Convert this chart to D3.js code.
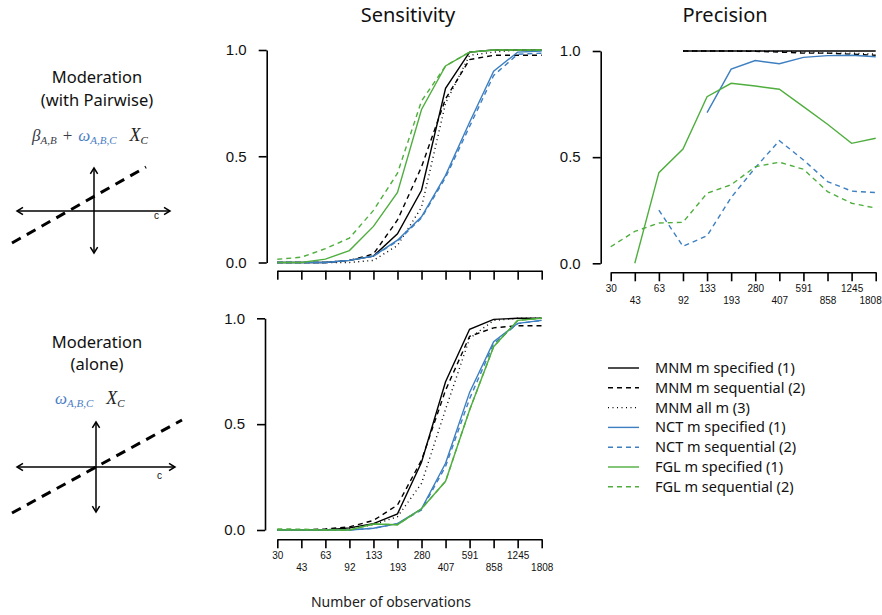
<!DOCTYPE html>
<html><head><meta charset="utf-8">
<script src="https://cdn.jsdelivr.net/npm/d3@7/dist/d3.min.js"></script>
<style>
body{margin:0;background:#fff;}
svg{display:block;}
</style></head>
<body>
<svg id="chart" width="882" height="615"></svg>
<script>
// ---- data ----
const xLabels = ["30","43","63","92","133","193","280","407","591","858","1245","1808"];
const yTicks = [0, 0.5, 1];
const seriesNames = ["MNM m specified (1)","MNM m sequential (2)","MNM all m (3)","NCT m specified (1)","NCT m sequential (2)","FGL m specified (1)","FGL m sequential (2)"];

// Sensitivity, Moderation (with Pairwise)
const sensTop_mnmSpec = [0,0,0,0.01,0.03,0.135,0.34,0.82,0.99,1,1,1];
const sensTop_mnmSeq  = [0,0,0,0.01,0.04,0.2,0.45,0.77,0.955,0.975,0.975,0.975];
const sensTop_mnmAll  = [0,0,0,0,0.01,0.08,0.26,0.75,0.975,0.99,1,1];
const sensTop_nctSpec = [0,0,0,0.01,0.03,0.105,0.215,0.41,0.66,0.9,0.99,0.995];
const sensTop_nctSeq  = [0,0,0,0.01,0.03,0.1,0.21,0.4,0.64,0.88,0.98,0.985];
const sensTop_fglSpec = [0,0,0.016,0.056,0.17,0.33,0.72,0.925,0.99,1,1,1];
const sensTop_fglSeq  = [0.015,0.025,0.065,0.115,0.245,0.42,0.76,0.925,0.99,1,1,1];

// Precision, Moderation (with Pairwise)
const prec_mnmSpec = [null,null,null,1,1,1,1,1,1,1,1,1];
const prec_mnmSeq  = [null,null,null,1,1,1,0.998,0.995,0.99,0.99,0.985,0.98];
const prec_mnmAll  = [null,null,null,1,1,1,1,0.998,0.995,0.99,0.99,0.985];
const prec_nctSpec = [null,null,null,null,0.71,0.915,0.955,0.94,0.97,0.978,0.98,0.973];
const prec_nctSeq  = [null,null,0.25,0.08,0.13,0.31,0.45,0.578,0.487,0.385,0.34,0.333];
const prec_fglSpec = [null,0,0.427,0.538,0.785,0.848,0.835,0.82,0.738,0.655,0.565,0.589];
const prec_fglSeq  = [0.078,0.15,0.19,0.193,0.33,0.37,0.455,0.476,0.443,0.338,0.283,0.26];

// Sensitivity, Moderation (alone)
const sensBot_mnmSpec = [0,0,0,0.01,0.03,0.076,0.32,0.70,0.948,0.995,1,1];
const sensBot_mnmSeq  = [0,0,0.005,0.015,0.045,0.118,0.33,0.66,0.915,0.955,0.965,0.965];
const sensBot_mnmAll  = [0,0,0,0.005,0.025,0.063,0.22,0.57,0.905,0.99,1,1];
const sensBot_nctSpec = [0,0,0,0,0.008,0.03,0.10,0.315,0.65,0.89,0.976,0.99];
const sensBot_nctSeq  = [0,0,0,0,0.008,0.03,0.095,0.3,0.62,0.88,0.975,0.99];
const sensBot_fglSpec = [0,0,0,0,0.028,0.025,0.10,0.23,0.567,0.866,0.99,1];
const sensBot_fglSeq  = [0.005,0.004,0,0,0.028,0.025,0.10,0.23,0.567,0.866,0.99,1];

// ---- styles ----
const BLACK = "#000", BLUE = "#3d7fc1", GREEN = "#4fae3e";
const styles = [
  {color:BLACK, dash:null},
  {color:BLACK, dash:"5,4"},
  {color:BLACK, dash:"1,3.5"},
  {color:BLUE, dash:null},
  {color:BLUE, dash:"5,4"},
  {color:GREEN, dash:null},
  {color:GREEN, dash:"5,4"}
];

const svg = d3.select("#chart");
const TICKFONT = "Liberation Sans, Arial, sans-serif";
const TEXTFONT = "Noto Sans, Open Sans, sans-serif";

function panel(opts){
  const x = d3.scalePoint().domain(xLabels).range(opts.xr).padding(0);
  const y = d3.scaleLinear().domain([0,1]).range(opts.yr);
  const g = svg.append("g");
  // y axis
  const ya = g.append("g").attr("transform",`translate(${opts.yAxisX},0)`)
    .call(d3.axisLeft(y).tickValues(yTicks).tickFormat(d3.format(".1f")).tickSize(8).tickSizeOuter(0).tickPadding(12));
  ya.select(".domain").attr("stroke-width",1.6);
  ya.selectAll(".tick line").attr("stroke-width",1.6);
  ya.selectAll("text").attr("font-family",TICKFONT).attr("font-size",15).attr("fill","#111");
  // x axis
  const xa = g.append("g").attr("transform",`translate(0,${opts.xAxisY})`)
    .call(d3.axisBottom(x).tickSize(9).tickSizeOuter(0).tickFormat(opts.labels ? (d=>d) : ""));
  xa.select(".domain").attr("stroke-width",1.6);
  xa.selectAll(".tick line").attr("stroke-width",1.6);
  xa.selectAll("text").attr("font-family",TICKFONT).attr("font-size",10).attr("fill","#111")
    .attr("y",(d,i)=> i%2===0 ? 13 : 25).attr("dy","0.71em");
  if(opts.fitLast){
    xa.selectAll("text").filter((d,i)=>i===xLabels.length-1)
      .attr("text-anchor","end").attr("x",opts.fitLast);
  }
  // lines
  const line = d3.line().defined(d=>d.v!==null).x(d=>x(d.k)).y(d=>y(d.v));
  opts.series.forEach((vals,si)=>{
    const st = styles[si];
    g.append("path")
      .datum(vals.map((v,i)=>({k:xLabels[i], v:v})))
      .attr("fill","none").attr("stroke",st.color).attr("stroke-width",1.4)
      .attr("stroke-dasharray",st.dash).attr("d",line);
  });
}

panel({xr:[277.3,541.7], yr:[262.5,50], yAxisX:266.7, xAxisY:270.7, labels:false,
  series:[sensTop_mnmSpec,sensTop_mnmSeq,sensTop_mnmAll,sensTop_nctSpec,sensTop_nctSeq,sensTop_fglSpec,sensTop_fglSeq]});
panel({xr:[610.7,875.7], yr:[263.3,51], yAxisX:600.7, xAxisY:272.3, labels:true, fitLast:5.5,
  series:[prec_mnmSpec,prec_mnmSeq,prec_mnmAll,prec_nctSpec,prec_nctSeq,prec_fglSpec,prec_fglSeq]});
panel({xr:[277.3,541.7], yr:[530,318.3], yAxisX:265, xAxisY:539.3, labels:true,
  series:[sensBot_mnmSpec,sensBot_mnmSeq,sensBot_mnmAll,sensBot_nctSpec,sensBot_nctSeq,sensBot_fglSpec,sensBot_fglSeq]});

// titles
svg.append("text").attr("x",408).attr("y",22).attr("text-anchor","middle")
  .attr("font-family",TEXTFONT).attr("font-size",20).attr("fill","#111").text("Sensitivity");
svg.append("text").attr("x",725).attr("y",22).attr("text-anchor","middle")
  .attr("font-family",TEXTFONT).attr("font-size",20).attr("fill","#111").text("Precision");
svg.append("text").attr("x",391).attr("y",607).attr("text-anchor","middle")
  .attr("font-family",TEXTFONT).attr("font-size",14).attr("fill","#222").text("Number of observations");

// legend
const lg = svg.append("g");
seriesNames.forEach((n,i)=>{
  const yy = 368 + i*19.8;
  lg.append("line").attr("x1",608).attr("x2",639).attr("y1",yy).attr("y2",yy)
    .attr("stroke",styles[i].color).attr("stroke-width",1.4).attr("stroke-dasharray",styles[i].dash);
  lg.append("text").attr("x",655).attr("y",yy).attr("dy","0.35em")
    .attr("font-family",TEXTFONT).attr("font-size",14.5).attr("fill","#111").text(n);
});

// left annotations
function label(lines, cx, ys){
  lines.forEach((t,i)=>svg.append("text").attr("x",cx).attr("y",ys[i]).attr("dy","0.35em")
    .attr("text-anchor","middle").attr("font-family",TEXTFONT).attr("font-size",16.5).attr("fill","#111").text(t));
}
label(["Moderation","(with Pairwise)"], 97, [77,100]);
label(["Moderation","(alone)"], 97, [342,364]);

const SERIF = "Liberation Serif, DejaVu Serif, serif";
function formula(parts, x0, yb){
  const t = svg.append("text").attr("x",x0).attr("y",yb).attr("font-family",SERIF);
  parts.forEach(p=>{
    const s = t.append("tspan").attr("fill",p.c).attr("font-size",p.s)
      .attr("font-style",p.i?"italic":"normal").text(p.t);
    if(p.dy!==undefined) s.attr("dy",p.dy);
    if(p.dx!==undefined) s.attr("dx",p.dx);
  });
}
const GRAYF = "#3b3b48", BLUEF = "#4a7ec4";
formula([
  {t:"β",c:GRAYF,s:17,i:true},
  {t:"A,B",c:GRAYF,s:11,i:true,dy:3},
  {t:"+",c:GRAYF,s:17,dy:-3,dx:6},
  {t:"ω",c:BLUEF,s:17,i:true,dx:6},
  {t:"A,B,C",c:BLUEF,s:11,i:true,dy:3},
  {t:"X",c:"#222",s:18,i:true,dy:-3,dx:13},
  {t:"C",c:"#222",s:11,i:true,dy:3}
], 32, 141);
formula([
  {t:"ω",c:BLUEF,s:17,i:true},
  {t:"A,B,C",c:BLUEF,s:11,i:true,dy:3},
  {t:"X",c:"#222",s:18,i:true,dy:-3,dx:13},
  {t:"C",c:"#222",s:11,i:true,dy:3}
], 55, 404);

// mini diagrams
function arrowLine(g,x1,y1,x2,y2){
  g.append("line").attr("x1",x1).attr("y1",y1).attr("x2",x2).attr("y2",y2)
    .attr("stroke","#000").attr("stroke-width",1.5);
  [[x1,y1,x2,y2],[x2,y2,x1,y1]].forEach(([ax,ay,bx,by])=>{
    const ang = Math.atan2(ay-by, ax-bx), L=7, a=0.55;
    g.append("path").attr("d",
      `M${ax-L*Math.cos(ang-a)},${ay-L*Math.sin(ang-a)}L${ax},${ay}L${ax-L*Math.cos(ang+a)},${ay-L*Math.sin(ang+a)}`)
      .attr("fill","none").attr("stroke","#000").attr("stroke-width",1.5);
  });
}
function diagram(h, v, dash, cPos){
  const g = svg.append("g");
  arrowLine(g, h[0], h[1], h[2], h[1]);
  arrowLine(g, v[0], v[1], v[0], v[2]);
  g.append("line").attr("x1",dash[0]).attr("y1",dash[1]).attr("x2",dash[2]).attr("y2",dash[3])
    .attr("stroke","#000").attr("stroke-width",3).attr("stroke-dasharray","10,7");
  g.append("text").attr("x",cPos[0]).attr("y",cPos[1]).attr("font-family",TICKFONT)
    .attr("font-size",10).attr("fill","#111").text("c");
}
diagram([17,211,170],[94,168,253],[12,243,146,167],[154,219]);
diagram([17,467,175],[96,422,512],[12,513,182,420],[157,479]);
</script>
</body></html>
